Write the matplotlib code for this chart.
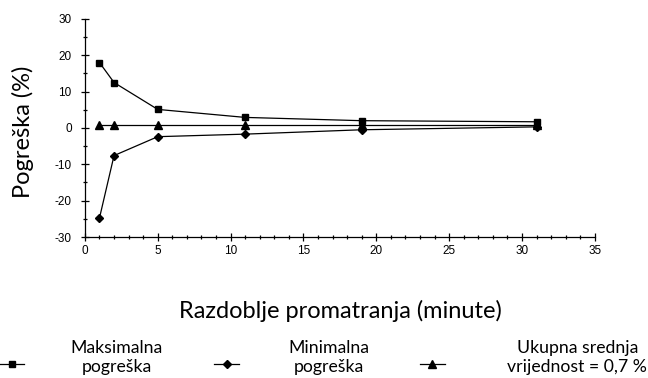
import matplotlib
matplotlib.use("Agg")
import matplotlib.pyplot as plt
from matplotlib.lines import Line2D
from matplotlib.ticker import MultipleLocator

# Observation period (minutes) and error values (%)
minutes = [1, 2, 5, 11, 19, 31]
max_error = [18.0, 12.5, 5.1, 2.9, 2.0, 1.7]
min_error = [-24.8, -7.6, -2.4, -1.7, -0.5, 0.3]
mean_error = [0.7, 0.7, 0.7, 0.7, 0.7, 0.7]

series_labels = ["Maksimalna\npogreška", "Minimalna\npogreška", "Ukupna srednja\nvrijednost = 0,7 %"]
series_markers = ["s", "D", "^"]
x_label = "Razdoblje promatranja (minute)"
y_label = "Pogreška (%)"

label_font = "Lato"
tick_font = "Liberation Sans"
plt.rcParams["axes.unicode_minus"] = False

fig = plt.figure(figsize=(6.48, 3.78), dpi=100)
ax = fig.add_axes([0.131, 0.373, 0.787, 0.577])

marker_sizes = [5, 4.5, 5.5]
for ys, mk, ms in zip([max_error, min_error, mean_error], series_markers, marker_sizes):
    ax.plot(minutes, ys, color="black", lw=0.9, marker=mk, ms=ms,
            markerfacecolor="black", markeredgecolor="black", clip_on=False)

ax.set_xlim(0, 35)
ax.set_ylim(-30, 30)
ax.xaxis.set_major_locator(MultipleLocator(5))
ax.xaxis.set_minor_locator(MultipleLocator(1))
ax.yaxis.set_major_locator(MultipleLocator(10))
ax.yaxis.set_minor_locator(MultipleLocator(5))
for s in ["top", "right"]:
    ax.spines[s].set_visible(False)
for s in ["left", "bottom"]:
    ax.spines[s].set_linewidth(0.9)
ax.tick_params(which="major", direction="inout", length=6, width=0.9, labelsize=8.5)
ax.tick_params(axis="x", which="major", pad=3)
ax.tick_params(axis="y", which="major", pad=6.5)
ax.tick_params(which="minor", direction="inout", length=3.5, width=0.9)
for lbl in ax.get_xticklabels() + ax.get_yticklabels():
    lbl.set_fontfamily(tick_font)

fig.text(0.525, 0.177, x_label, ha="center", va="center", fontsize=17, family=label_font)
fig.text(0.035, 0.65, y_label, ha="center", va="center", rotation=90, fontsize=17, family=label_font)

# Legend: handle glyphs with centred two-line labels
handle_x = [0.0185, 0.35, 0.667]
handle_y = 0.037
text_x = [0.180, 0.507, 0.891]
for hx, tx, mk, ms, lab in zip(handle_x, text_x, series_markers, marker_sizes, series_labels):
    fig.add_artist(Line2D([hx - 0.019, hx + 0.019], [handle_y, handle_y], transform=fig.transFigure,
                          color="black", lw=0.9))
    fig.add_artist(Line2D([hx], [handle_y], transform=fig.transFigure, marker=mk, ms=ms,
                          color="black", lw=0))
    fig.text(tx, 0.055, lab, ha="center", va="center", fontsize=12.7,
             family=label_font, linespacing=1.2)

fig.savefig("out.png", dpi=100)
